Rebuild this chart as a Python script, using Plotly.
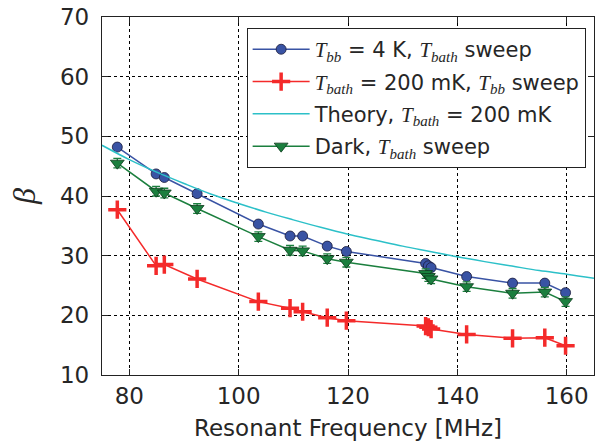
import plotly.graph_objects as go

# Resonator frequencies [MHz]
freqs = [77.8, 84.9, 86.4, 92.4, 103.6, 109.4, 111.7, 116.2, 119.7,
         134.2, 134.7, 135.2, 141.7, 150.1, 156.0, 159.8]
# Tbb = 4 K, Tbath sweep
beta_tbb4k = [48.2, 43.7, 43.1, 40.4, 35.3, 33.3, 33.3, 31.6, 30.7,
              28.7, 28.3, 28.0, 26.5, 25.4, 25.4, 23.8]
# Tbath = 200 mK, Tbb sweep
beta_tbath200 = [37.7, 28.3, 28.5, 26.1, 22.3, 21.2, 20.6, 19.6, 19.1,
                 18.2, 18.0, 17.7, 16.8, 16.15, 16.25, 14.9]
# Dark, Tbath sweep
beta_dark = [45.5, 40.8, 40.5, 37.9, 33.2, 30.9, 30.8, 29.5, 28.9,
             27.0, 26.5, 26.1, 24.8, 23.7, 23.9, 22.3]
beta_dark_err = [0.8] * 16
# Theory curve
theory_f = [75, 80, 85, 90, 95, 100, 105, 110, 115, 120, 125, 130,
            135, 140, 145, 150, 155, 160, 165]
theory_beta = [48.5, 46.1, 44.0, 42.1, 40.3, 38.75, 37.3, 36.0, 34.75,
               33.6, 32.6, 31.6, 30.7, 29.8, 29.0, 28.25, 27.5, 26.9, 26.2]

x_ticks = [80, 100, 120, 140, 160]
y_ticks = [10, 20, 30, 40, 50, 60, 70]

LEG_SIZE = 21
SUB_SIZE = 15


def m(s, size):
    return (f'<span style="font-family:Liberation Serif;font-size:{size}px">'
            f'<i>{s}</i></span>')


T = m("T", LEG_SIZE)
Tbb = f"{T}<sub>{m('bb', SUB_SIZE)}</sub>"
Tbath = f"{T}<sub>{m('bath', SUB_SIZE)}</sub>"

BLUE = "#3953A4"
RED = "#F42A2A"
CYAN = "#2CC0C8"
GREEN = "#1B7F3E"

fig = go.Figure()
fig.add_trace(go.Scatter(
    x=freqs, y=beta_tbb4k, mode="lines+markers",
    name=f"{Tbb} = 4 K, {Tbath} sweep", legendgroup="a",
    line=dict(color=BLUE, width=1.5),
    marker=dict(symbol="circle", size=10, color=BLUE,
                line=dict(color="#1a1a3a", width=0.8)),
))
fig.add_trace(go.Scatter(
    x=freqs, y=beta_tbath200, mode="lines+markers",
    name=f"{Tbath} = 200 mK, {Tbb} sweep", legendgroup="b",
    line=dict(color=RED, width=1.5),
    marker=dict(symbol="cross-thin", size=13, color=RED,
                line=dict(color=RED, width=3.5)),
))
fig.add_trace(go.Scatter(
    x=theory_f, y=theory_beta, mode="lines",
    name=f"Theory, {Tbath} = 200 mK", legendgroup="c",
    line=dict(color=CYAN, width=1.5, shape="spline"),
))
fig.add_trace(go.Scatter(
    x=freqs, y=beta_dark, mode="lines+markers",
    name=f"Dark, {Tbath} sweep", legendgroup="d",
    line=dict(color=GREEN, width=1.5),
    marker=dict(symbol="triangle-down", size=12, color=GREEN,
                line=dict(color="#0d3a1c", width=0.8)),
    error_y=dict(type="data", array=beta_dark_err, visible=True,
                 color=GREEN, thickness=1.3, width=4),
))

axis_common = dict(
    showline=True, linecolor="#222222", linewidth=1.3, mirror="allticks",
    ticks="inside", ticklen=6, tickcolor="#222222", tickwidth=1,
    showgrid=True, gridcolor="black", griddash="3px,3px", gridwidth=1,
    zeroline=False, automargin=False,
    tickfont=dict(family="DejaVu Sans", size=23, color="#262626"),
)

fig.update_xaxes(
    range=[75, 165], tickvals=x_ticks,
    title=dict(text="Resonant Frequency [MHz]", standoff=12,
               font=dict(family="DejaVu Sans", size=23, color="#262626")),
    **axis_common,
)
fig.update_yaxes(
    range=[10, 70], tickvals=y_ticks, ticklabelstandoff=7,
    title=dict(text=m("β", 32), standoff=14,
               font=dict(size=32, color="#262626")),
    **axis_common,
)

fig.update_layout(
    width=610, height=444,
    margin=dict(l=102, r=16, t=17, b=69),
    paper_bgcolor="white", plot_bgcolor="white",
    font=dict(family="DejaVu Sans", color="#262626"),
    showlegend=True,
    legend=dict(
        x=0.983, y=0.969, xanchor="right", yanchor="top",
        bgcolor="white", bordercolor="#222222", borderwidth=1,
        font=dict(family="DejaVu Sans", size=LEG_SIZE, color="#262626"),
        itemwidth=57, tracegroupgap=2,
    ),
)

fig.write_html("out.html", config={"displayModeBar": False},
               post_script="document.body.style.margin='0';")
